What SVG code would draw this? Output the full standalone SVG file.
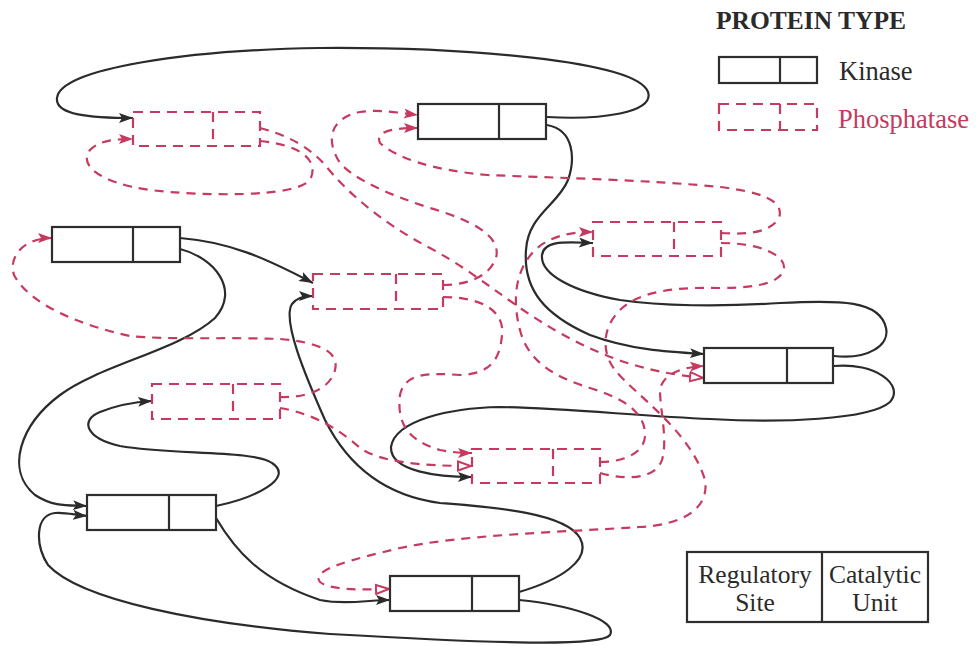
<svg xmlns="http://www.w3.org/2000/svg" width="976" height="646" viewBox="0 0 976 646">
  <style>
    .kin { fill: #fff; stroke: #2e2e2e; stroke-width: 2.2; }
    .kdiv { stroke: #2e2e2e; stroke-width: 2.2; }
    .pho { fill: none; stroke: #c63a60; stroke-width: 2.2; stroke-dasharray: 10 7; }
    .k-edge { fill: none; stroke: #2b2b2b; stroke-width: 2.2; }
    .p-edge { fill: none; stroke: #c63a60; stroke-width: 2.2; stroke-dasharray: 9 7; }
    .title { font-family: "Liberation Serif", "Times New Roman", serif; font-weight: bold; font-size: 25.5px; fill: #2a2a2a; }
    .lab { font-family: "Liberation Serif", "Times New Roman", serif; font-size: 26.5px; fill: #2a2a2a; }
    .lab-red { font-family: "Liberation Serif", "Times New Roman", serif; font-size: 26.5px; fill: #c63a60; }
    .key { font-family: "Liberation Serif", "Times New Roman", serif; font-size: 25.5px; fill: #2a2a2a; }
  </style>
  <defs>
    <marker id="arrow-k" viewBox="0 0 14 10" refX="14" refY="5" markerWidth="14" markerHeight="10" markerUnits="userSpaceOnUse" orient="auto">
      <path d="M0,0 L14,5 L0,10 L3,5 z" fill="#2b2b2b"/>
    </marker>
    <marker id="arrow-p" viewBox="0 0 14 10" refX="14" refY="5" markerWidth="14" markerHeight="10" markerUnits="userSpaceOnUse" orient="auto">
      <path d="M0,0 L14,5 L0,10 L3,5 z" fill="#c63a60"/>
    </marker>
    <marker id="arrow-open" viewBox="0 0 16 12" refX="15" refY="6" markerWidth="16" markerHeight="12" markerUnits="userSpaceOnUse" orient="auto">
      <path d="M1,1.5 L14,6 L1,10.5 z" fill="#fff" stroke="#c63a60" stroke-width="2"/>
    </marker>
  </defs>

  <!-- legend -->
  <g id="legend">
    <text class="title" x="716" y="29">PROTEIN TYPE</text>
    <rect class="kin" x="719" y="57" width="98" height="26"/>
    <line class="kdiv" x1="780" y1="57" x2="780" y2="83"/>
    <text class="lab" x="839" y="80">Kinase</text>
    <rect class="pho" x="719" y="104" width="98" height="26"/>
    <line class="pho" x1="780" y1="104" x2="780" y2="130"/>
    <text class="lab-red" x="838" y="128">Phosphatase</text>
  </g>

  <g id="key">
    <rect class="kin" x="687" y="552" width="241" height="70"/>
    <line class="kdiv" x1="822" y1="552" x2="822" y2="622"/>
    <text class="key" x="755" y="583" text-anchor="middle">Regulatory</text>
    <text class="key" x="755" y="611" text-anchor="middle">Site</text>
    <text class="key" x="875" y="583" text-anchor="middle">Catalytic</text>
    <text class="key" x="875" y="611" text-anchor="middle">Unit</text>
  </g>

  <!-- connectors -->
  <g id="connectors">
    <!-- kinase actions (solid) -->
    <path class="k-edge" marker-end="url(#arrow-k)" d="M547,117 C600,120 655,113 648,92 C636,60 460,47 320,48 C190,50 60,68 57,98 C55,115 90,118 133,118"/>
    <path class="k-edge" marker-end="url(#arrow-k)" d="M547,125 C575,130 575,160 568,180 C558,205 528,215 526,250 C523,290 545,315 590,335 C630,350 670,352 704,354"/>
    <path class="k-edge" marker-end="url(#arrow-k)" d="M834,356 C868,360 890,345 886,328 C880,300 840,300 780,303 C720,307 660,306 620,300 C575,292 540,275 542,255 C544,240 565,242 593,243"/>
    <path class="k-edge" marker-end="url(#arrow-k)" d="M834,366 C875,362 905,385 890,402 C870,420 780,423 710,419 C640,416 560,408 500,407 C450,408 395,420 391,447 C390,472 440,477 472,477"/>
    <path class="k-edge" marker-end="url(#arrow-k)" d="M180,238 C230,242 265,258 313,283"/>
    <path class="k-edge" marker-end="url(#arrow-k)" d="M180,249 C215,258 240,290 215,318 C180,350 100,365 60,395 C20,425 5,470 35,495 C55,508 70,505 87,506"/>
    <path class="k-edge" marker-end="url(#arrow-k)" d="M216,506 C255,498 295,478 272,463 C255,450 170,455 120,446 C85,438 80,420 100,412 C115,406 135,402 152,401"/>
    <path class="k-edge" marker-end="url(#arrow-k)" d="M216,518 C235,550 260,580 320,600 C345,605 370,600 390,600"/>
    <path class="k-edge" marker-end="url(#arrow-k)" d="M519,600 C570,605 618,620 610,635 C600,648 470,642 330,634 C200,624 80,600 48,565 C35,545 35,515 55,513 C65,512 75,515 87,516"/>
    <path class="k-edge" marker-end="url(#arrow-k)" d="M519,592 C560,580 592,560 580,538 C565,512 490,507 440,503 C380,495 345,460 325,420 C305,375 282,320 292,304 C297,297 305,296 313,296"/>

    <!-- phosphatase actions (dashed) -->
    <path class="p-edge" marker-end="url(#arrow-p)" d="M260,141 C300,145 320,160 310,180 C295,198 200,196 150,190 C100,183 78,165 90,150 C100,140 115,139 133,139"/>
    <path class="p-edge" marker-end="url(#arrow-open)" d="M260,128 C290,136 310,148 325,165 C345,190 380,222 430,248 C480,275 510,305 560,333 C600,355 640,372 704,378"/>
    <path class="p-edge" marker-end="url(#arrow-p)" d="M443,285 C470,285 490,275 496,258 C502,235 470,220 430,208 C390,195 355,180 340,163 C325,140 330,118 360,112 C380,109 400,113 418,115"/>
    <path class="p-edge" marker-end="url(#arrow-p)" d="M443,297 C480,297 505,310 502,335 C500,360 490,374 460,375 C430,373 405,372 400,395 C397,420 405,440 440,450 C450,452 460,453 472,453"/>
    <path class="p-edge" marker-end="url(#arrow-p)" d="M721,233 C750,235 770,232 779,218 C785,200 760,192 720,187 C650,180 560,178 487,175 C430,170 395,157 380,143 C375,132 390,128 418,128"/>
    <path class="p-edge" marker-end="url(#arrow-open)" d="M721,243 C760,243 785,255 784,268 C782,282 760,288 720,288 C680,287 640,290 620,310 C600,330 603,355 615,370 C635,395 690,430 705,480 C710,510 680,525 640,527 C560,532 460,535 400,548 C350,560 310,570 320,582 C330,590 360,590 390,589"/>
    <path class="p-edge" marker-end="url(#arrow-p)" d="M280,397 C305,398 330,390 335,370 C340,350 315,342 280,339 C230,337 170,340 130,336 C80,325 30,305 14,275 C8,255 25,238 52,238"/>
    <path class="p-edge" marker-end="url(#arrow-open)" d="M280,408 C315,414 340,430 360,448 C380,462 420,466 472,466"/>
    <path class="p-edge" marker-end="url(#arrow-p)" d="M600,462 C625,462 647,452 645,432 C643,410 620,397 590,388 C555,377 528,362 520,330 C512,300 515,270 535,250 C550,236 570,232 593,232"/>
    <path class="p-edge" marker-end="url(#arrow-p)" d="M600,473 C625,480 655,480 662,460 C668,440 660,410 660,390 C662,375 680,367 704,366"/>
  </g>

  <!-- kinases -->
  <g id="kinase-1"><rect class="kin" x="418" y="104" width="128" height="35"/><line class="kdiv" x1="499" y1="104" x2="499" y2="139"/></g>
  <g id="kinase-2"><rect class="kin" x="52" y="227" width="128" height="35"/><line class="kdiv" x1="133" y1="227" x2="133" y2="262"/></g>
  <g id="kinase-3"><rect class="kin" x="704" y="348" width="129" height="35"/><line class="kdiv" x1="787" y1="348" x2="787" y2="383"/></g>
  <g id="kinase-4"><rect class="kin" x="87" y="495" width="129" height="35"/><line class="kdiv" x1="169" y1="495" x2="169" y2="530"/></g>
  <g id="kinase-5"><rect class="kin" x="390" y="576" width="129" height="35"/><line class="kdiv" x1="472" y1="576" x2="472" y2="611"/></g>

  <!-- phosphatases -->
  <g id="phosphatase-1"><rect class="pho" x="133" y="112" width="127" height="34"/><line class="pho" x1="213" y1="112" x2="213" y2="146"/></g>
  <g id="phosphatase-2"><rect class="pho" x="313" y="274" width="130" height="35"/><line class="pho" x1="396" y1="274" x2="396" y2="309"/></g>
  <g id="phosphatase-3"><rect class="pho" x="593" y="222" width="128" height="34"/><line class="pho" x1="674" y1="222" x2="674" y2="256"/></g>
  <g id="phosphatase-4"><rect class="pho" x="152" y="384" width="128" height="35"/><line class="pho" x1="233" y1="384" x2="233" y2="419"/></g>
  <g id="phosphatase-5"><rect class="pho" x="472" y="449" width="128" height="34"/><line class="pho" x1="553" y1="449" x2="553" y2="483"/></g>
</svg>
